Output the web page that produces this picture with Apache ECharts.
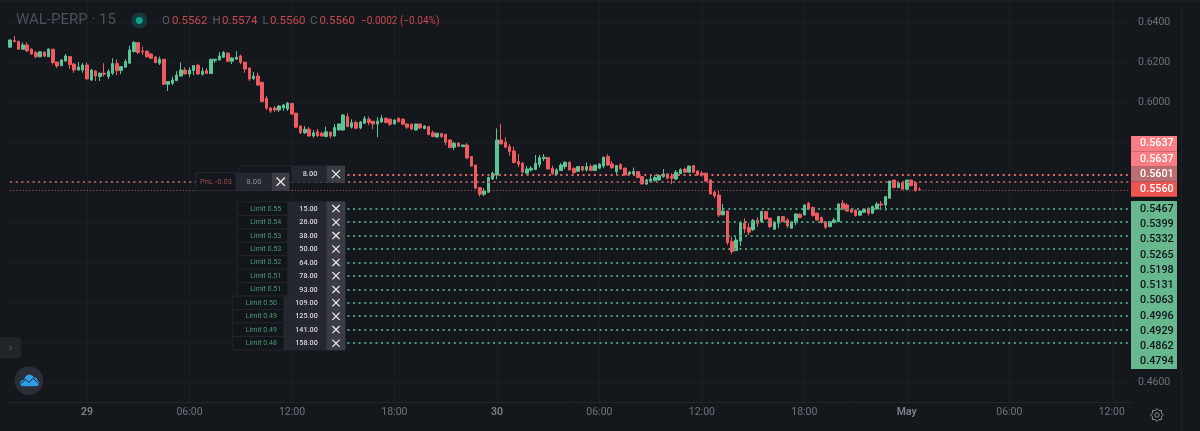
<!DOCTYPE html>
<html><head><meta charset="utf-8">
<style>html,body{margin:0;padding:0;background:#14171c;overflow:hidden}#c{width:1200px;height:431px}</style>
<script src="https://cdn.jsdelivr.net/npm/echarts@6/dist/echarts.min.js"></script>
</head><body><div id="c"></div>
<script>
const opens=[.6274,.6307,.6304,.6264,.6285,.6264,.6246,.6226,.6250,.6226,
.6264,.6200,.6182,.6205,.6227,.6190,.6160,.6160,.6185,.6110,
.6155,.6127,.6144,.6127,.6144,.6192,.6157,.6174,.6194,.6252,
.6297,.6254,.6254,.6240,.6224,.6194,.6214,.6089,.6094,.6107,
.6130,.6160,.6140,.6157,.6184,.6139,.6157,.6142,.6207,.6210,
.6224,.6244,.6204,.6214,.6230,.6199,.6170,.6117,.6130,.6099,
.6019,.5970,.5970,.5960,.5970,.5965,.5993,.5944,.5880,.5846,
.5864,.5830,.5851,.5844,.5827,.5850,.5830,.5860,.5860,.5927,
.5874,.5897,.5870,.5894,.5914,.5904,.5890,.5900,.5919,.5914,
.5890,.5919,.5914,.5890,.5889,.5860,.5890,.5867,.5877,.5846,
.5825,.5842,.5839,.5810,.5774,.5795,.5777,.5785,.5727,.5685,
.5572,.5539,.5549,.5615,.5635,.5810,.5799,.5777,.5755,.5702,
.5694,.5644,.5660,.5662,.5687,.5717,.5722,.5669,.5639,.5657,
.5677,.5699,.5669,.5654,.5677,.5660,.5677,.5657,.5669,.5680,
.5727,.5690,.5652,.5687,.5669,.5640,.5640,.5652,.5627,.5590,
.5602,.5607,.5610,.5627,.5640,.5627,.5615,.5642,.5665,.5649,
.5682,.5655,.5644,.5644,.5610,.5549,.5535,.5436,.5455,.5302,
.5257,.5305,.5394,.5372,.5362,.5409,.5402,.5452,.5419,.5364,
.5394,.5427,.5410,.5369,.5397,.5439,.5435,.5494,.5472,.5444,
.5422,.5400,.5377,.5397,.5402,.5494,.5485,.5464,.5459,.5434,
.5449,.5469,.5444,.5465,.5490,.5485,.5519,.5610,.5572,.5597,
.5564,.5610,.5597,.5562];
const closes=[.6310,.6302,.6264,.6285,.6255,.6240,.6226,.6251,.6229,.6265,
.6197,.6180,.6210,.6230,.6187,.6160,.6175,.6185,.6115,.6160,
.6130,.6144,.6139,.6152,.6192,.6157,.6177,.6202,.6260,.6297,
.6247,.6250,.6226,.6219,.6197,.6214,.6089,.6102,.6110,.6135,
.6160,.6140,.6160,.6182,.6140,.6154,.6142,.6214,.6214,.6230,
.6247,.6204,.6220,.6224,.6199,.6165,.6115,.6130,.6085,.6002,
.5969,.5955,.5960,.5980,.5985,.5995,.5940,.5874,.5846,.5864,
.5830,.5846,.5830,.5830,.5851,.5830,.5872,.5890,.5935,.5877,
.5897,.5869,.5900,.5917,.5897,.5890,.5904,.5919,.5897,.5889,
.5910,.5902,.5889,.5874,.5865,.5890,.5870,.5880,.5837,.5827,
.5844,.5827,.5799,.5772,.5794,.5779,.5785,.5720,.5680,.5569,
.5539,.5555,.5622,.5644,.5810,.5790,.5774,.5752,.5697,.5689,
.5649,.5665,.5669,.5694,.5722,.5724,.5665,.5642,.5660,.5685,
.5699,.5660,.5647,.5677,.5660,.5677,.5657,.5685,.5689,.5724,
.5685,.5672,.5682,.5665,.5635,.5649,.5652,.5622,.5590,.5610,
.5615,.5622,.5632,.5640,.5619,.5619,.5649,.5662,.5649,.5680,
.5649,.5635,.5635,.5605,.5540,.5530,.5435,.5455,.5297,.5252,
.5310,.5396,.5365,.5349,.5407,.5394,.5452,.5415,.5377,.5399,
.5427,.5402,.5380,.5402,.5440,.5422,.5485,.5464,.5432,.5410,
.5397,.5374,.5402,.5410,.5490,.5464,.5455,.5449,.5432,.5455,
.5464,.5444,.5477,.5490,.5485,.5527,.5605,.5572,.5594,.5564,
.5610,.5582,.5557,.5560];
const lows=[.6270,.6299,.6260,.6260,.6251,.6237,.6219,.6224,.6226,.6225,
.6187,.6170,.6179,.6202,.6165,.6146,.6157,.6146,.6114,.6105,
.6105,.6105,.6127,.6115,.6135,.6135,.6139,.6172,.6190,.6247,
.6240,.6235,.6222,.6214,.6194,.6185,.6085,.6055,.6085,.6104,
.6127,.6139,.6124,.6134,.6135,.6132,.6140,.6140,.6195,.6209,
.6220,.6200,.6190,.6210,.6189,.6146,.6105,.6110,.6080,.5998,
.5960,.5945,.5950,.5950,.5955,.5955,.5935,.5869,.5840,.5840,
.5827,.5821,.5827,.5827,.5825,.5819,.5827,.5857,.5857,.5874,
.5867,.5864,.5864,.5890,.5884,.5864,.5824,.5896,.5894,.5880,
.5889,.5897,.5884,.5865,.5860,.5857,.5865,.5864,.5834,.5824,
.5821,.5820,.5785,.5769,.5760,.5777,.5774,.5714,.5677,.5565,
.5527,.5530,.5547,.5610,.5614,.5789,.5769,.5732,.5694,.5674,
.5644,.5639,.5652,.5660,.5672,.5705,.5664,.5635,.5635,.5655,
.5664,.5659,.5639,.5652,.5652,.5652,.5655,.5655,.5664,.5669,
.5680,.5665,.5639,.5660,.5632,.5635,.5635,.5619,.5589,.5585,
.5597,.5602,.5607,.5622,.5614,.5589,.5609,.5639,.5645,.5648,
.5645,.5632,.5627,.5602,.5539,.5519,.5424,.5434,.5285,.5239,
.5255,.5280,.5344,.5335,.5355,.5375,.5395,.5412,.5369,.5360,
.5369,.5399,.5369,.5365,.5385,.5419,.5434,.5460,.5427,.5407,
.5394,.5365,.5374,.5394,.5399,.5460,.5452,.5445,.5427,.5432,
.5445,.5432,.5440,.5464,.5469,.5457,.5515,.5569,.5569,.5560,
.5560,.5577,.5552,.5560];
const highs=[.6313,.6330,.6304,.6298,.6298,.6269,.6255,.6255,.6253,.6268,
.6266,.6200,.6213,.6240,.6230,.6194,.6199,.6194,.6197,.6164,
.6160,.6147,.6194,.6164,.6219,.6214,.6180,.6214,.6281,.6305,
.6299,.6277,.6257,.6244,.6230,.6227,.6214,.6105,.6127,.6154,
.6197,.6174,.6174,.6185,.6189,.6172,.6170,.6215,.6215,.6249,
.6255,.6249,.6224,.6254,.6237,.6200,.6172,.6150,.6147,.6100,
.6030,.5975,.5980,.5985,.5990,.6000,.5995,.5946,.5882,.5880,
.5874,.5860,.5865,.5851,.5877,.5850,.5890,.5894,.5940,.5944,
.5914,.5907,.5905,.5930,.5927,.5905,.5924,.5935,.5922,.5917,
.5914,.5922,.5919,.5894,.5892,.5892,.5892,.5884,.5880,.5857,
.5845,.5844,.5840,.5815,.5802,.5797,.5785,.5794,.5730,.5685,
.5574,.5569,.5627,.5652,.5868,.5890,.5824,.5790,.5777,.5739,
.5699,.5680,.5680,.5735,.5735,.5740,.5725,.5682,.5669,.5694,
.5702,.5702,.5672,.5680,.5680,.5697,.5689,.5685,.5695,.5727,
.5739,.5705,.5685,.5694,.5672,.5655,.5672,.5655,.5630,.5617,
.5639,.5635,.5639,.5665,.5644,.5644,.5660,.5669,.5672,.5680,
.5682,.5660,.5655,.5645,.5614,.5555,.5555,.5490,.5455,.5327,
.5327,.5402,.5419,.5394,.5415,.5424,.5457,.5455,.5422,.5402,
.5430,.5430,.5419,.5405,.5444,.5444,.5489,.5500,.5477,.5449,
.5427,.5402,.5405,.5422,.5494,.5510,.5494,.5469,.5464,.5457,
.5469,.5472,.5482,.5499,.5505,.5530,.5605,.5610,.5597,.5605,
.5610,.5610,.5602,.5574];

const xTickLabels=['29','06:00','12:00','18:00','30','06:00','12:00','18:00','May','06:00','12:00'];
const boldTicks=['29','30','May'];
const yTickLabels=['0.6400','0.6200','0.6000','0.4600'];
const barCount=263, firstTickBar=18, barsPerTick=24;

const limitTags=['0.5467','0.5399','0.5332','0.5265','0.5198','0.5131','0.5063','0.4996','0.4929','0.4862','0.4794'];
const limitLinePrices=[0.5467,0.5399,0.5332,0.5265,0.5198,0.5131,0.5063,0.4996,0.4929,0.4862,0.4794];
const limitNames=['Limit 0.55','Limit 0.54','Limit 0.53','Limit 0.53','Limit 0.52','Limit 0.51','Limit 0.51','Limit 0.50','Limit 0.49','Limit 0.49','Limit 0.48'];
const limitSizes=['15.00','26.00','38.00','50.00','64.00','78.00','93.00','109.00','125.00','141.00','158.00'];
const redTags=['0.5637','0.5637','0.5601','0.5560'];
const tpPrice=0.5637, entryPrice=0.5601, lastPrice=0.5560;

const GREEN='#5ac596', RED='#ef5b60', BG='#14171c', GRID='#1b1e24';
const FONT='Roboto, "Liberation Sans", sans-serif';

const categories=[];
for(let i=0;i<barCount;i++){categories.push('b'+i);}
const candles=opens.map((o,i)=>[o,closes[i],lows[i],highs[i]]);
const isTick=i=>i>=firstTickBar&&(i-firstTickBar)%barsPerTick===0;
const tickText=i=>xTickLabels[(i-firstTickBar)/barsPerTick]||'';

function seg(price,fromBar,toBar){return [{xAxis:fromBar,yAxis:price},{xAxis:toBar,yAxis:price}];}
const dotted=(color,w,dash)=>({color,width:w,type:dash});
const lineSeries=(name,lines,style)=>({
  type:'line',name,data:[],silent:true,
  markLine:{silent:true,symbol:'none',animation:false,label:{show:false},emphasis:{disabled:true},lineStyle:style,precision:4,data:lines}
});

const chart=echarts.init(document.getElementById('c'),null,{renderer:'canvas',width:1200,height:431});
const option={
  animation:false,backgroundColor:BG,
  grid:{left:8,width:1123,top:2,height:400,containLabel:false},
  xAxis:{type:'category',data:categories,boundaryGap:true,
    axisLine:{show:true,lineStyle:{color:'#22252b',width:1}},
    axisTick:{show:false,alignWithLabel:true,interval:i=>isTick(i)},
    splitLine:{show:true,alignWithLabel:true,interval:i=>isTick(i),lineStyle:{color:GRID,width:1}},
    axisLabel:{interval:i=>isTick(i),hideOverlap:false,margin:5,fontFamily:FONT,fontSize:10.5,color:'#6f737a',
      formatter:(v,i)=>{const t=tickText(i);return boldTicks.includes(t)?'{b|'+t+'}':t;},
      rich:{b:{fontFamily:FONT,fontSize:10.5,fontWeight:600,color:'#7d8087'}}}},
  yAxis:{type:'value',position:'right',min:0.45,max:0.65,interval:0.01,scale:true,
    axisLine:{show:false},axisTick:{show:false},
    splitLine:{show:true,lineStyle:{color:['transparent',GRID],width:1}},
    axisLabel:{margin:7,fontFamily:FONT,fontSize:10.5,color:'#6f737a',showMinLabel:true,showMaxLabel:true,
      formatter:v=>{const s=v.toFixed(4);return yTickLabels.includes(s)?s:'';}}},
  series:[
    {type:'candlestick',data:candles,barWidth:3,z:3,silent:true,
     itemStyle:{color:GREEN,color0:RED,borderColor:GREEN,borderColor0:RED,borderWidth:1}},
    lineSeries('lastPrice',[seg(lastPrice,0,barCount-1)],dotted('#b94c50',1,[1.2,2])),
    lineSeries('entry',[seg(entryPrice,0,44),seg(entryPrice,66,barCount-1)],dotted('#a55a5e',2,[2,3.6])),
    lineSeries('tp',[seg(tpPrice,79,barCount-1)],dotted('#e0686c',2,[2,3.6])),
    lineSeries('limits',limitLinePrices.map(p=>seg(p,79,barCount-1)),dotted('#4f9a78',2,[2,3.6]))
  ]
};
chart.setOption(option);

function txt(x,y,text,fill,size,align,weight){return {type:'text',z:50,silent:true,style:{x,y,text,fill,fontSize:size,fontFamily:FONT,align:align||'left',verticalAlign:'middle',fontWeight:weight||400}};}
function box(x,y,w,h,fill,stroke,r){return {type:'rect',z:49,silent:true,shape:{x,y,width:w,height:h,r:r||0},style:{fill,stroke:stroke||null,lineWidth:stroke?1:0}};}
function ln(x1,y1,x2,y2,color,w,z){return {type:'line',z:z||51,silent:true,shape:{x1,y1,x2,y2},style:{stroke:color,lineWidth:w}};}
function cross(cx,cy,s,color,w,z){return [ln(cx-s,cy-s,cx+s,cy+s,color,w,z),ln(cx+s,cy-s,cx-s,cy+s,color,w,z)];}

const py=p=>chart.convertToPixel({yAxisIndex:0},p);
const g=[];
// frame lines
g.push(ln(0,1,1200,1,'#1f2228',1,1));
g.push(ln(1181.5,1,1181.5,431,'#1c1f25',1,1));
// header
g.push(txt(16,20.5,'WAL-PERP · 15','#4c5057',15));
g.push({type:'circle',z:50,silent:true,shape:{cx:139.3,cy:20.5,r:8},style:{fill:'#17383a'}});
g.push({type:'circle',z:51,silent:true,shape:{cx:139.3,cy:20.5,r:3.4},style:{fill:'#0aa38f'}});
const hdr=[[162,'O','0.5562'],[212.5,'H','0.5574'],[262.5,'L','0.5560'],[310,'C','0.5560']];
const HGRAY='#5a5d63',HRED='#c8494e';
hdr.forEach(([x,k,v])=>{g.push(txt(x,21,k,HGRAY,11.5));g.push(txt(x+(k==='L'?7.5:k==='O'?10:9.5),21,v,HRED,11.5));});
g.push(txt(361,21,'−0.0002 (−0.04%)',HRED,10));
// right tags
const tagX=1131,tagW=46,tagTxt=1140;
const redFill=['#f97d83','#f97d83','#b96f72','#ef5350'];
const redEdges=[136,151.3,166.7,181.7,196.7];
redTags.forEach((t,i)=>{
  g.push(box(tagX,redEdges[i],tagW,redEdges[i+1]-redEdges[i],redFill[i]));
  g.push(txt(tagTxt,(redEdges[i]+redEdges[i+1])/2,t,'#ffffff',10.8,'left',500));
});
g.push(box(tagX,201,tagW,168,'#67b78f'));
limitTags.forEach((t,i)=>{g.push(txt(tagTxt,209+i*15.27,t,'#10141a',10.8,'left',500));});
// order rows
const rowH=13.4;
limitLinePrices.forEach((p,i)=>{
  const y=py(p), wide=i>=7, lx=wide?232.7:237.3, vx=wide?284:288;
  g.push(box(lx,y-rowH/2,vx-lx,rowH,'#12151a','#22252c'));
  g.push(box(vx,y-rowH/2,327-vx,rowH,'#24272f','#24272f'));
  g.push(box(327,y-rowH/2,18,rowH,'#3a3d45','#3a3d45'));
  g.push(txt((lx+vx)/2+3,y+.3,limitNames[i],'#4f9a78',7,'center'));
  g.push(txt((vx+327)/2+1,y+.3,limitSizes[i],'#d8dade',7.2,'center',500));
  g.push(...cross(336,y,3.6,'#f2f2f2',1.2));
});
// take-profit row (behind) and PnL row
const tpY=py(tpPrice)-0.5;
g.push(box(240,tpY-8.5,52,17,'#14171c','#23262c'));
g.push(box(292,tpY-8.5,35,17,'#24272f'));
g.push(box(327,tpY-8.5,18,17,'#3a3d45'));
g.push(txt(310,tpY+.3,'8.00','#d8dade',7.4,'center',500));
g.push(...cross(336,tpY,4,'#f2f2f2',1.3));
const pnlY=181.7;
g.push(Object.assign(box(196,pnlY-9,40,18,'#14171c','#262930'),{z:52}));
g.push(Object.assign(box(236,pnlY-9,36,18,'#24272f'),{z:52}));
g.push(Object.assign(box(272,pnlY-9,17.5,18,'#3a3d45'),{z:52}));
g.push(Object.assign(txt(216,pnlY+.3,'PnL -0.03','#a04b50',7.6,'center'),{z:53}));
g.push(Object.assign(txt(254,pnlY+.3,'8.00','#8f9298',7.6,'center'),{z:53}));
g.push(...cross(280.7,pnlY,4.2,'#f2f2f2',1.3,53));
// collapse button
g.push(box(-4,337,25,21,'#212429',null,3));
g.push({type:'polyline',z:51,silent:true,shape:{points:[[9.5,345.5],[11.8,347.7],[9.5,350]]},style:{fill:null,stroke:'#5c5f65',lineWidth:1}});
// logo
g.push({type:'circle',z:50,silent:true,shape:{cx:29,cy:380.7,r:14.3},style:{fill:'#2a2e39'}});
g.push({type:'polygon',z:51,silent:true,shape:{smooth:0.3,points:[[20,384],[21,381],[24,379.5],[26,376],[29.4,374.6],[33,376],[34,377.6],[36.5,378],[37.4,380.4],[39,382],[38.6,385],[36.6,386],[22.3,386]]},style:{fill:'#2f9fe8'}});
g.push({type:'polyline',z:52,silent:true,shape:{points:[[20.5,384],[25.5,379.5],[29,382.5],[33,378.2],[38.5,383.4]]},style:{fill:null,stroke:'#1d2430',lineWidth:1}});
// gear
const gearPts=[];const gc=[1157,415];
for(let k=0;k<16;k++){const a=k*Math.PI/8,r=k%2?4.9:6.4;gearPts.push([gc[0]+r*Math.cos(a),gc[1]+r*Math.sin(a)]);}
g.push({type:'polygon',z:50,silent:true,shape:{points:gearPts},style:{fill:null,stroke:'#8a8d93',lineWidth:1}});
g.push({type:'circle',z:50,silent:true,shape:{cx:gc[0],cy:gc[1],r:2.2},style:{fill:null,stroke:'#8a8d93',lineWidth:1}});
chart.setOption({graphic:{elements:g}});
</script></body></html>
